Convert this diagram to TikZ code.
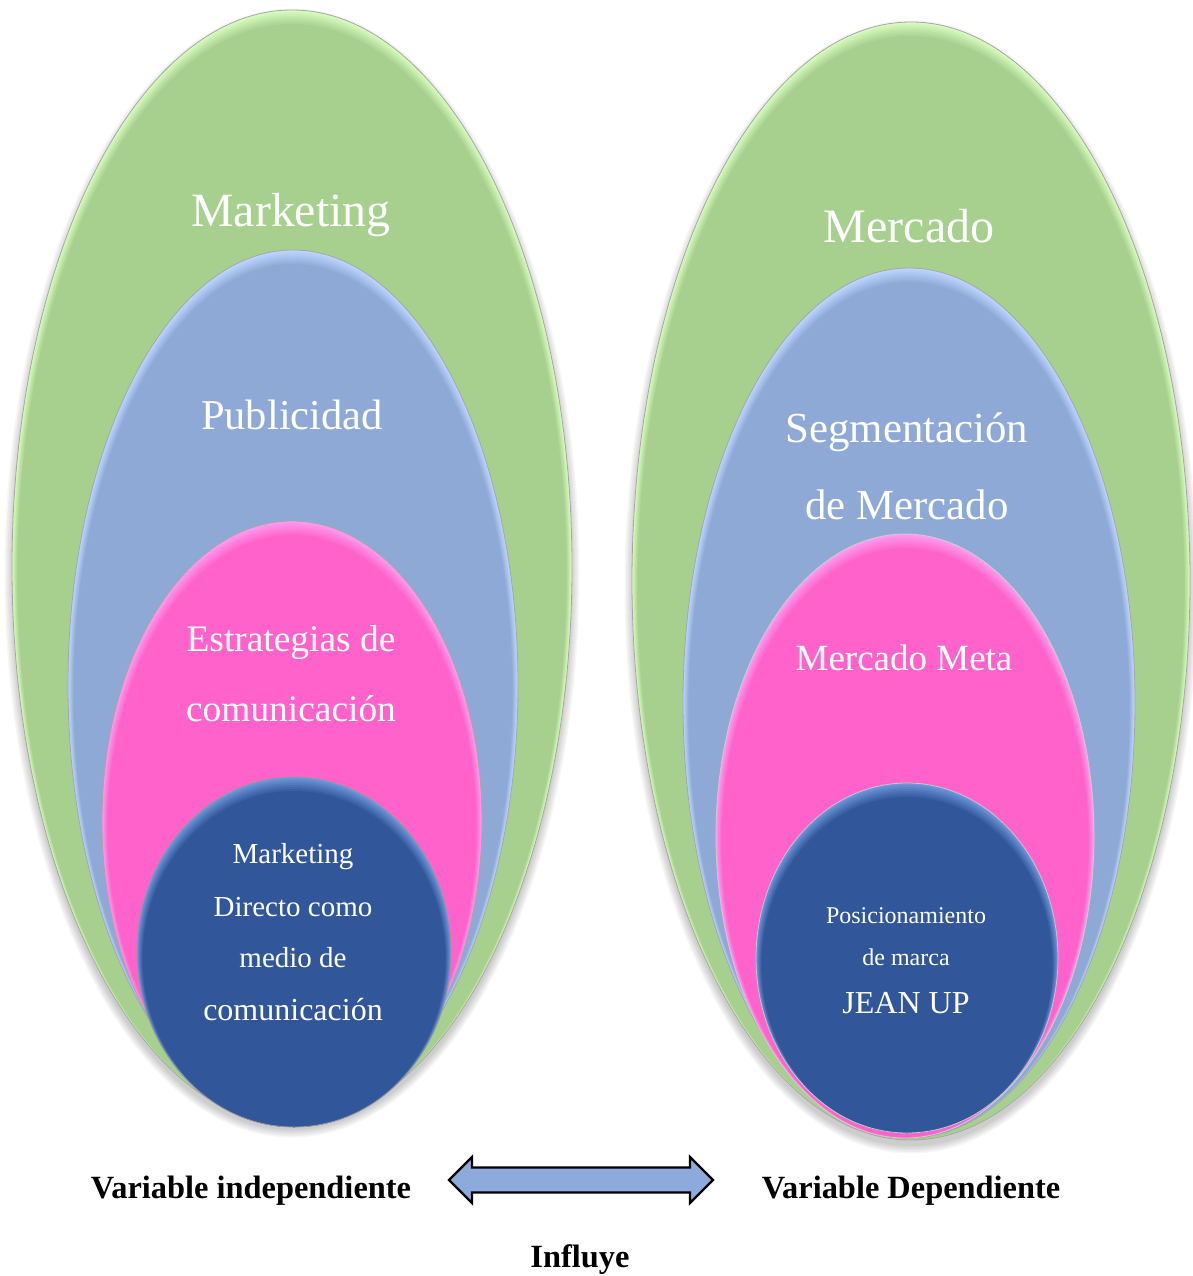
\documentclass[tikz,border=0pt]{standalone}
\usepackage{fontspec}
\setmainfont{Liberation Serif}
\usetikzlibrary{shapes.geometric}

\definecolor{grn}{HTML}{A7D08E}
\definecolor{grnL}{HTML}{D8FBBE}
\definecolor{blu}{HTML}{8FA9D7}
\definecolor{bluL}{HTML}{BCD4FF}
\definecolor{pnk}{HTML}{FF63CB}
\definecolor{pnkL}{HTML}{FF9AEE}
\definecolor{dbl}{HTML}{31579A}
\definecolor{dblL}{HTML}{6C95DA}
\definecolor{arrowfill}{HTML}{8EA9DB}

% bevelled ellipse: #1 name, #2 cx, #3 cy, #4 rx, #5 ry, #6 base, #7 light, #8 outline
\newcommand\bevelellipse[8]{%
  \foreach \i in {0,...,7}{%
    \pgfmathsetmacro\mixpct{100-\i*100/7}%
    \fill[{#7!\mixpct!#6}] (#2,#3+\i) ellipse [x radius=#4-0.8*\i, y radius=#5-\i];
  }%
  \node[ellipse, draw=#8, line width=0.8pt, inner sep=0pt,
        minimum width=2*#4 pt, minimum height=2*#5 pt] (#1) at (#2,#3) {};
}
% soft shadow under a group
\newcommand\softshadow[4]{%
  \foreach \i in {0,...,5}{%
    \fill[black, opacity=0.035] (#1,#2+6) ellipse [x radius=#3+\i*1.5, y radius=#4+\i*1.5];
  }%
}

\tikzset{
  lbl/.style={text=white, align=center, inner sep=0pt},
  blbl/.style={text=black, font=\fontsize{32.4}{38}\selectfont\bfseries, inner sep=0pt},
}

\begin{document}
\begin{tikzpicture}[x=1pt,y=-1pt]
\useasboundingbox (0,0) rectangle (1192,1276);

% independent variable group
\softshadow{292}{567}{280}{557}
\bevelellipse{mkt}{292}{567}{280}{557}{grn}{grnL}{gray!70}
\bevelellipse{pub}{293}{685}{225}{435}{blu}{bluL}{gray!70}
\bevelellipse{est}{292}{821}{190}{300}{pnk}{pnkL}{gray!70}
\bevelellipse{mdc}{294}{952}{157}{175}{dbl}{dblL}{gray!80}

\node[lbl, font=\fontsize{47.8}{54}\selectfont] (tMkt) at (291,215) {Marketing};
\node[lbl, font=\fontsize{42.5}{48}\selectfont] (tPub) at (292,415) {Publicidad};
\node[lbl, font=\fontsize{37.4}{44}\selectfont] (tEst1) at (291,643) {Estrategias de};
\node[lbl, font=\fontsize{37.4}{44}\selectfont] (tEst2) at (291,709) {comunicación};
\node[lbl, font=\fontsize{29}{34}\selectfont] (tMd1) at (293,857) {Marketing};
\node[lbl, font=\fontsize{29}{34}\selectfont] (tMd2) at (293,907) {Directo como};
\node[lbl, font=\fontsize{29}{34}\selectfont] (tMd3) at (293,958) {medio de};
\node[lbl, font=\fontsize{32}{36}\selectfont] (tMd4) at (293,1010) {comunicación};

% dependent variable group
\softshadow{911}{581}{279}{559}
\bevelellipse{mer}{911}{581}{279}{559}{grn}{grnL}{gray!70}
\bevelellipse{seg}{909}{703}{226}{435}{blu}{bluL}{gray!70}
\bevelellipse{met}{905}{836}{189}{302}{pnk}{pnkL}{gray!40}
\bevelellipse{pos}{907}{958}{151}{175}{dbl}{dblL}{gray!45}

\node[lbl, font=\fontsize{48}{54}\selectfont] (tMer) at (909,226) {Mercado};
\node[lbl, font=\fontsize{42.8}{48}\selectfont] (tSeg1) at (907,432) {Segmentación};
\node[lbl, font=\fontsize{42.8}{48}\selectfont] (tSeg2) at (907,505) {de Mercado};
\node[lbl, font=\fontsize{37}{44}\selectfont] (tMet) at (904,658) {Mercado Meta};
\node[lbl, font=\fontsize{24}{28}\selectfont] (tPos1) at (906,916) {Posicionamiento};
\node[lbl, font=\fontsize{24}{28}\selectfont] (tPos2) at (906,957) {de marca};
\node[lbl, font=\fontsize{32}{36}\selectfont] (tPos3) at (906,1003) {JEAN UP};

% captions and the two-way arrow between them
\node[blbl] (vi) at (251,1191) {Variable independiente};
\node[blbl] (vd) at (911,1191) {Variable Dependiente};
\node[blbl] (inf) at (580,1260) {Influye};

\coordinate (tipL) at (449,1180);
\coordinate (tipR) at (713,1180);
\draw[fill=arrowfill, line width=2.2pt, line join=miter]
  (tipL) -- ++(23,-23) -- ++(0,10.5) -- (690,1167.5) -- (690,1157) -- (tipR)
  -- (690,1203) -- (690,1192.5) -- (472,1192.5) -- (472,1203) -- cycle;
\end{tikzpicture}
\end{document}
